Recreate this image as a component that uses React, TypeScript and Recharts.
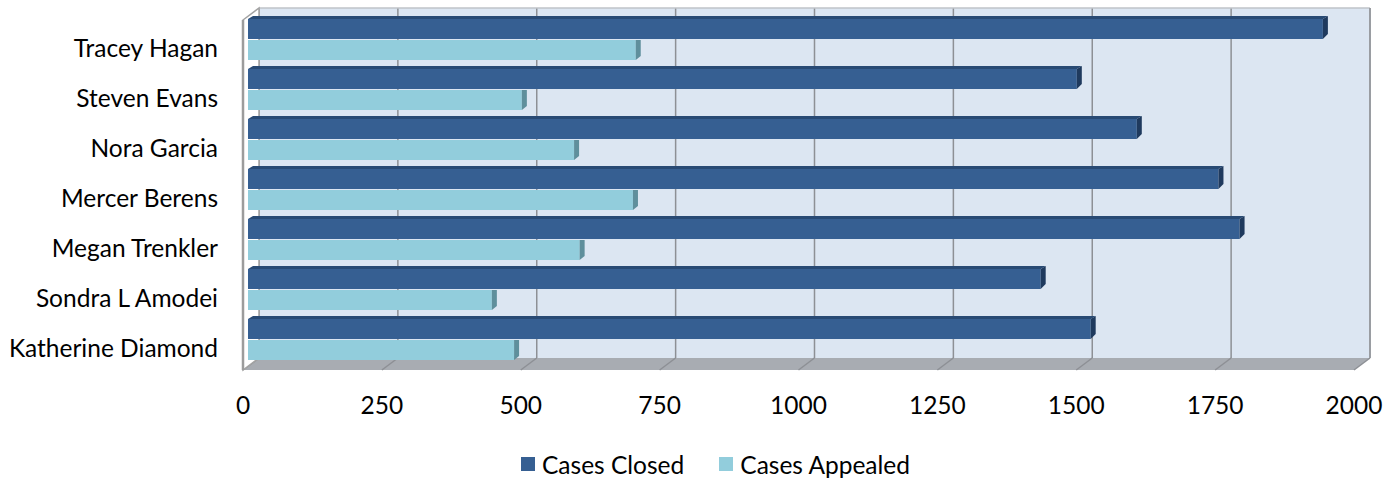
import { BarChart, Bar, XAxis, YAxis, Legend, ReferenceArea } from "recharts"

const names = [
  "Tracey Hagan",
  "Steven Evans",
  "Nora Garcia",
  "Mercer Berens",
  "Megan Trenkler",
  "Sondra L Amodei",
  "Katherine Diamond",
]
const casesClosed = [1935, 1492, 1600, 1747, 1785, 1427, 1517]
const casesAppealed = [698, 493, 587, 693, 597, 439, 479]
const xTicks = [0, 250, 500, 750, 1000, 1250, 1500, 1750, 2000]
const xMax = 2000
const legendOrder = ["closed", "appealed"]

const data = names.map((name, i) => ({ name, closed: casesClosed[i], appealed: casesAppealed[i] }))

const FONT = "Lato, 'Open Sans', sans-serif"
const FONT_SIZE = 24.5

// 3d look: the back wall sits 16px right and 12px up of the front plane
const DX = 16
const DY = 12

function Walls(props: any) {
  const { x, y, width, height } = props
  const fx = x - 5
  const fTop = y + 6
  const fBot = y + height + 6
  const bx = fx + DX
  const bTop = fTop - DY
  const bBot = fBot - DY
  const px = (v: number) => fx + (v / xMax) * width
  return (
    <g>
      <rect x={bx} y={bTop} width={width} height={height} fill="#DCE6F2" />
      <polygon
        points={`${bx},${bBot} ${bx + width},${bBot} ${fx + width},${fBot} ${fx},${fBot}`}
        fill="#A8ACB2"
      />
      {xTicks.map((v) => (
        <g key={v}>
          <line x1={px(v) + DX} y1={bTop} x2={px(v) + DX} y2={bBot} stroke="#8D9095" strokeWidth={1.5} />
          <line x1={px(v) + DX} y1={bBot} x2={px(v)} y2={fBot} stroke="#8D9095" strokeWidth={1.5} />
        </g>
      ))}
      <line x1={bx} y1={bTop} x2={bx + width} y2={bTop} stroke="#BFC3C8" strokeWidth={1.5} />
      <line x1={bx + width} y1={bTop} x2={bx + width} y2={bBot} stroke="#9A9DA2" strokeWidth={2} />
      <polygon
        points={`${fx},${fTop} ${bx},${bTop} ${bx},${bBot} ${fx},${fBot}`}
        fill="#FFFFFF"
        stroke="#A3A3A3"
        strokeWidth={1.5}
      />
      <line x1={fx} y1={fTop} x2={fx} y2={fBot} stroke="#9C9C9C" strokeWidth={2.5} />
    </g>
  )
}

function ClosedBar(props: any) {
  const { x, y, width, height } = props
  const xe = x + width
  return (
    <g>
      <rect x={x} y={y} width={width} height={height} fill="#365F92" />
      <polygon points={`${x},${y} ${x + 5},${y - 3} ${xe + 5},${y - 3} ${xe},${y}`} fill="#284A74" />
      <polygon
        points={`${xe},${y} ${xe + 5},${y - 3} ${xe + 5},${y + height - 5} ${xe},${y + height}`}
        fill="#1F3A5E"
      />
    </g>
  )
}

function AppealedBar(props: any) {
  const { x, y, width, height } = props
  const xe = x + width
  return (
    <g>
      <rect x={x} y={y} width={width} height={height} fill="#92CDDC" />
      <polygon
        points={`${xe},${y} ${xe + 5},${y} ${xe + 5},${y + height - 4} ${xe},${y + height}`}
        fill="#5F8F9C"
      />
    </g>
  )
}

function NameTick(props: any) {
  const { x, y, payload } = props
  return (
    <text x={x - 30} y={y + 8} textAnchor="end" dominantBaseline="central" fontFamily={FONT} fontSize={FONT_SIZE} fill="#000">
      {payload.value}
    </text>
  )
}

function ValueTick(props: any) {
  const { x, y, payload } = props
  return (
    <text x={x - 5} y={y + 40} textAnchor="middle" dominantBaseline="central" fontFamily={FONT} fontSize={FONT_SIZE} fill="#000">
      {payload.value}
    </text>
  )
}

function LegendContent(props: any) {
  const items = [...(props.payload || [])].sort(
    (a: any, b: any) => legendOrder.indexOf(a.dataKey) - legendOrder.indexOf(b.dataKey)
  )
  return (
    <div
      style={{
        display: "flex",
        justifyContent: "center",
        alignItems: "center",
        height: 30,
        paddingLeft: 62,
        fontFamily: FONT,
        fontSize: FONT_SIZE,
        color: "#000",
      }}
    >
      {items.map((it: any, i: number) => (
        <div key={i} style={{ display: "flex", alignItems: "center", marginRight: i === 0 ? 35 : 0 }}>
          <span style={{ width: 14, height: 14, background: it.color, marginRight: 7, display: "inline-block" }} />
          <span>{it.value}</span>
        </div>
      ))}
    </div>
  )
}

export default function App() {
  return (
    <div style={{ position: "absolute", left: 0, top: 0, width: 1396, height: 479, background: "#fff" }}>
      <BarChart
        width={1396}
        height={479}
        data={data}
        layout="vertical"
        margin={{ top: 14, right: 37, left: 10, bottom: 0 }}
        barSize={20}
        barGap={1}
      >
        <ReferenceArea x1={0} x2={xMax} ifOverflow="visible" shape={Walls} />
        <XAxis
          type="number"
          domain={[0, xMax]}
          ticks={xTicks}
          axisLine={false}
          tickLine={false}
          tickSize={0}
          tickMargin={0}
          height={85}
          tick={ValueTick}
          interval={0}
        />
        <YAxis
          type="category"
          dataKey="name"
          width={238}
          axisLine={false}
          tickLine={false}
          tickSize={0}
          tickMargin={0}
          tick={NameTick}
          interval={0}
        />
        <Legend verticalAlign="bottom" content={LegendContent} wrapperStyle={{ bottom: 0 }} />
        <Bar dataKey="closed" name="Cases Closed" fill="#365F92" shape={ClosedBar} isAnimationActive={false} />
        <Bar dataKey="appealed" name="Cases Appealed" fill="#92CDDC" shape={AppealedBar} isAnimationActive={false} />
      </BarChart>
    </div>
  )
}
